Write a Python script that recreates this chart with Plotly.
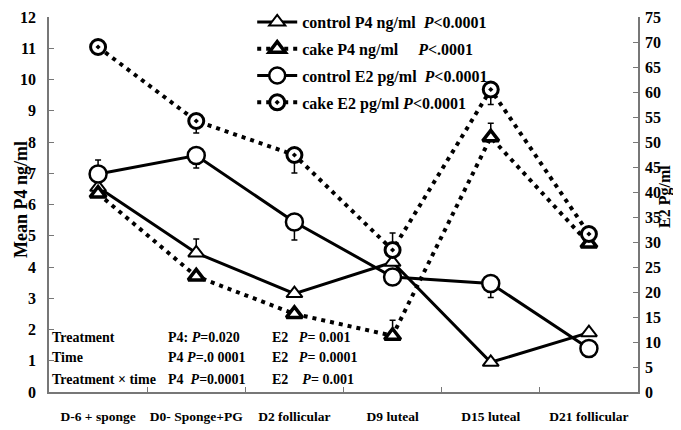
import plotly.graph_objects as go

categories = ["D-6 + sponge", "D0- Sponge+PG", "D2 follicular", "D9 luteal", "D15 luteal", "D21 follicular"]

control_p4 = [6.55, 4.45, 3.15, 4.15, 0.95, 1.9]
cake_p4 = [6.35, 3.7, 2.5, 1.8, 8.15, 4.75]
control_e2 = [43.6, 47.3, 34.0, 23.0, 21.7, 8.7]
cake_e2 = [69.0, 54.2, 47.4, 28.4, 60.5, 31.6]

control_p4_err_up = [0.2, 0.45, 0.0, 0.0, 0.0, 0.0]
control_p4_err_dn = [0.0, 0.0, 0.0, 0.0, 0.0, 0.0]
cake_p4_err_up = [0.0, 0.0, 0.0, 0.5, 0.45, 0.0]
cake_p4_err_dn = [0.0, 0.0, 0.0, 0.0, 0.0, 0.0]
control_e2_err_up = [2.8, 0.0, 0.0, 0.0, 0.0, 0.0]
control_e2_err_dn = [0.0, 2.5, 3.6, 0.0, 2.8, 0.0]
cake_e2_err_up = [0.0, 0.0, 0.0, 3.4, 0.0, 0.0]
cake_e2_err_dn = [0.0, 2.4, 3.6, 0.0, 3.0, 0.0]

names = [
    "control P4 ng/ml\u00a0\u00a0<i>P</i><0.0001",
    "cake P4 ng/ml\u00a0\u00a0\u00a0\u00a0\u00a0<i>P</i><.0001",
    "control E2 pg/ml\u00a0\u00a0<i>P</i><0.0001",
    "cake E2 pg/ml\u00a0<i>P</i><0.0001",
]

FONT = "Liberation Serif"

# the page body adds an 8px margin, so the figure is 8px smaller than the window
W, H = 673, 422
ML, MR, MT, MB = 41, 43, 9, 38
PW = W - ML - MR  # plot width in px
PH = H - MT - MB  # plot height in px

DOT = "4px,5px"

fig = go.Figure()

def err(up, dn):
    return dict(type="data", symmetric=False, array=up, arrayminus=dn,
                color="black", thickness=1.5, width=3)

fig.add_trace(go.Scatter(
    x=categories, y=control_p4, name=names[0], mode="lines+markers", yaxis="y",
    legendgroup="a",
    line=dict(color="black", width=3),
    marker=dict(symbol="triangle-up", size=14, color="white", line=dict(color="black", width=2)),
    error_y=err(control_p4_err_up, control_p4_err_dn)))
fig.add_trace(go.Scatter(
    x=categories, y=cake_p4, name=names[1], mode="lines+markers", yaxis="y",
    legendgroup="b",
    line=dict(color="black", width=4, dash=DOT),
    marker=dict(symbol="triangle-up", size=14, color="white", line=dict(color="black", width=3.5)),
    error_y=err(cake_p4_err_up, cake_p4_err_dn)))
fig.add_trace(go.Scatter(
    x=categories, y=control_e2, name=names[2], mode="lines+markers", yaxis="y2",
    legendgroup="c",
    line=dict(color="black", width=3),
    marker=dict(symbol="circle", size=17, color="white", line=dict(color="black", width=2.5)),
    error_y=err(control_e2_err_up, control_e2_err_dn)))
fig.add_trace(go.Scatter(
    x=categories, y=cake_e2, name=names[3], mode="lines+markers", yaxis="y2",
    legendgroup="d",
    line=dict(color="black", width=4, dash=DOT),
    marker=dict(symbol="circle-dot", size=15, color="white", line=dict(color="black", width=3)),
    error_y=err(cake_e2_err_up, cake_e2_err_dn)))

axis_common = dict(showline=True, linecolor="#777", linewidth=1.5, ticks="inside",
                   tickcolor="#777", ticklen=5, showgrid=False, zeroline=False,
                   automargin=False)

tick16 = dict(family=FONT, size=16, color="black", weight="bold")

fig.update_layout(
    width=W, height=H,
    margin=dict(l=ML, r=MR, t=MT, b=MB, autoexpand=False),
    paper_bgcolor="white", plot_bgcolor="white",
    font=dict(family=FONT, size=15, color="black", weight="bold"),
    xaxis=dict(type="category", range=[-0.5, len(categories) - 0.5],
               tickson="boundaries", ticklabelstandoff=11, tickangle=0,
               tickfont=dict(family=FONT, size=13.5, color="black", weight="bold"),
               **axis_common),
    yaxis=dict(range=[0, 12], dtick=1, ticklabelstandoff=8, tickfont=tick16,
               **axis_common),
    yaxis2=dict(range=[0, 75], dtick=5, overlaying="y", side="right", ticklabelstandoff=2,
                tickfont=tick16, **axis_common),
    showlegend=True,
    legend=dict(x=0.345, y=1.032, xanchor="left", yanchor="top", bgcolor="rgba(0,0,0,0)",
                traceorder="grouped", tracegroupgap=3, itemwidth=40,
                font=dict(family=FONT, size=16, color="black", weight="bold")),
)

# axis titles (positions given in window pixels: subtract 8px body margin)
def px_x(p):
    return (p - 8 - ML) / PW

def px_y(p):
    return (MT + PH - (p - 8)) / PH

fig.add_annotation(x=px_x(21), xref="paper", y=px_y(200), yref="paper", text="Mean P4 ng/ml",
                   textangle=-90, showarrow=False, xanchor="center", yanchor="middle",
                   font=dict(family=FONT, size=18, color="black", weight="bold"))
fig.add_annotation(x=px_x(665), xref="paper", y=px_y(197), yref="paper",
                   text="E2 Pg/ml", textangle=-90, showarrow=False,
                   xanchor="center", yanchor="middle",
                   font=dict(family=FONT, size=16, color="black", weight="bold"))

rows = [
    ("Treatment", "P4: <i>P</i>=0.020", "E2\u00a0\u00a0\u00a0<i>P</i>= 0.001"),
    ("Time", "P4 <i>P</i>=.0 0001", "E2\u00a0\u00a0\u00a0<i>P</i>= 0.0001"),
    ("Treatment × time", "P4\u00a0\u00a0<i>P</i>=0.0001", "E2\u00a0\u00a0\u00a0\u00a0<i>P</i>= 0.001"),
]
row_y = [1.76, 1.09, 0.4]
col_px = [50, 166, 270]
for (a, b, c), yv in zip(rows, row_y):
    for txt, p in zip((a, b, c), col_px):
        fig.add_annotation(x=px_x(p), xref="paper", y=yv, yref="y",
                           text=txt, showarrow=False, xanchor="left", yanchor="middle",
                           font=dict(family=FONT, size=14, color="black", weight="bold"))

fig.write_html("out.html")
